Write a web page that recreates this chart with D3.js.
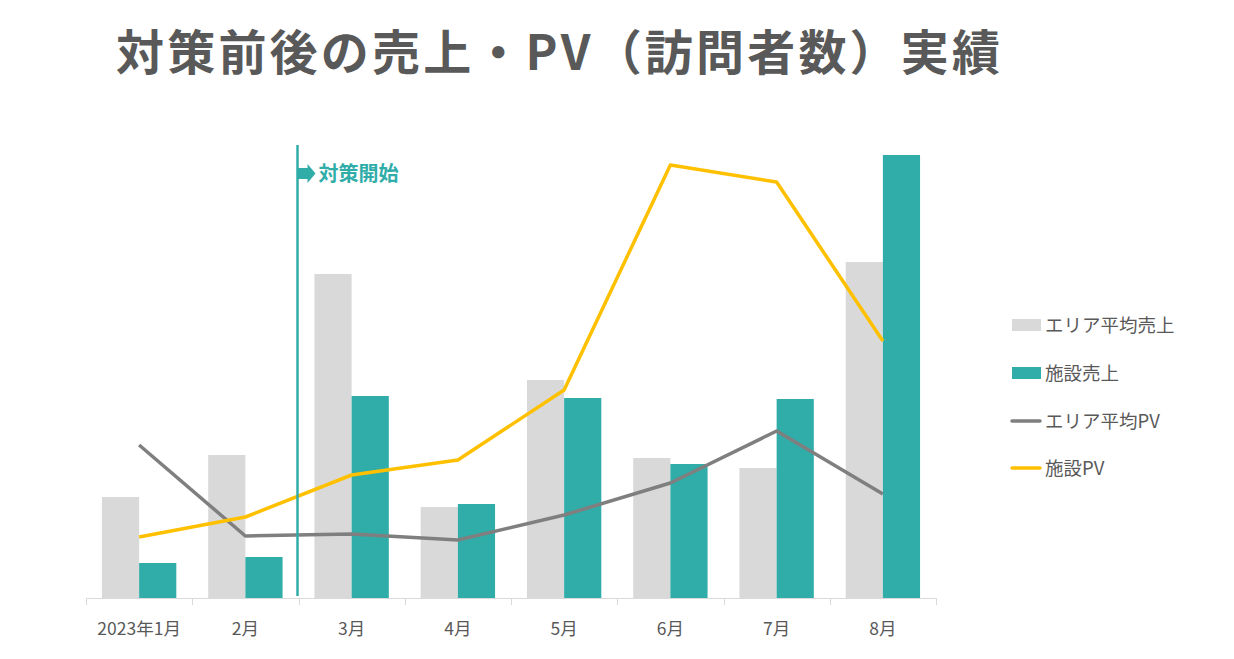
<!DOCTYPE html>
<html><head><meta charset="utf-8">
<script src="https://cdn.jsdelivr.net/npm/d3@7"></script>
<style>
html,body{margin:0;padding:0;background:#fff;}
svg{display:block;font-family:"Noto Sans CJK JP","Noto Sans",sans-serif;}
</style></head>
<body>
<svg id="chart" width="1234" height="659"></svg>
<script>
const categories = ["2023年1月","2月","3月","4月","5月","6月","7月","8月"];
const areaSales = [101,143,324,91,218,140,130,336];
const facilitySales = [35,41,202,94,200,134,199,443];
const areaPV = [306,124,128,116,166,230,334,208];
const facilityPV = [122,162,246,276,416,866,832,514];
const seriesNames = ["エリア平均売上","施設売上","エリア平均PV","施設PV"];
const titleText = "対策前後の売上・PV（訪問者数）実績";
const markerText = "対策開始";

const colors = {area:"#d9d9d9", facility:"#30ada9", areaPV:"#7f7f7f", facilityPV:"#ffc000", text:"#595959"};

const svg = d3.select("#chart");

svg.append("text").attr("x",116).attr("y",70)
  .attr("textLength",884).attr("lengthAdjust","spacing")
  .attr("font-size",48).attr("font-weight","bold").attr("fill",colors.text)
  .text(titleText);

const x0 = d3.scaleBand().domain(categories).range([86,936]).paddingInner(0.3).paddingOuter(0.15);
const x1 = d3.scaleBand().domain(["area","facility"]).range([0,x0.bandwidth()]);
const yBar = d3.scaleLinear().domain([0,500]).range([598,98]);
const yPV = d3.scaleLinear().domain([0,1000]).range([598,98]);

const g = svg.append("g");
categories.forEach((c,i)=>{
  g.append("rect").attr("x",x0(c)+x1("area")).attr("width",x1.bandwidth())
    .attr("y",yBar(areaSales[i])).attr("height",yBar(0)-yBar(areaSales[i])).attr("fill",colors.area);
  g.append("rect").attr("x",x0(c)+x1("facility")).attr("width",x1.bandwidth())
    .attr("y",yBar(facilitySales[i])).attr("height",yBar(0)-yBar(facilitySales[i])).attr("fill",colors.facility);
});

// axis
const xAxisScale = d3.scaleLinear().domain([0,categories.length]).range([86,936]);
g.append("line").attr("x1",86).attr("x2",936).attr("y1",598.5).attr("y2",598.5).attr("stroke","#d9d9d9").attr("stroke-width",1);
d3.range(categories.length+1).forEach(k=>{
  const xx = Math.round(xAxisScale(k))+0.5;
  g.append("line").attr("x1",xx).attr("x2",xx).attr("y1",598).attr("y2",605).attr("stroke","#d9d9d9");
});
categories.forEach(c=>{
  g.append("text").attr("x",x0(c)+x0.bandwidth()/2).attr("y",635).attr("text-anchor","middle")
    .attr("font-size",17.5).attr("fill",colors.text).text(c);
});

const cx = c => x0(c)+x0.bandwidth()/2;
const lineA = d3.line().x((d,i)=>cx(categories[i])).y(d=>yPV(d));
g.append("path").attr("d",lineA(areaPV)).attr("fill","none").attr("stroke",colors.areaPV).attr("stroke-width",3.5).attr("stroke-linejoin","round");
g.append("path").attr("d",lineA(facilityPV)).attr("fill","none").attr("stroke",colors.facilityPV).attr("stroke-width",3.5).attr("stroke-linejoin","round");

// marker line between 2月 and 3月
const mx = xAxisScale(2) - 1;
g.append("line").attr("x1",mx).attr("x2",mx).attr("y1",145).attr("y2",596).attr("stroke",colors.facility).attr("stroke-width",2.5);
g.append("path").attr("d",`M${mx},168 L${mx+10},168 L${mx+10},164 L${mx+18},173.5 L${mx+10},183 L${mx+10},179 L${mx},179 Z`).attr("fill",colors.facility);
g.append("text").attr("x",mx+21).attr("y",181).attr("font-size",20).attr("font-weight","bold").attr("fill",colors.facility).text(markerText);

// legend
const ly = [325,373,421,468];
const lg = svg.append("g");
[0,1].forEach(i=>{
  lg.append("rect").attr("x",1012).attr("y",ly[i]-6).attr("width",29).attr("height",12).attr("fill",i===0?colors.area:colors.facility);
});
[2,3].forEach(i=>{
  lg.append("line").attr("x1",1012).attr("x2",1040).attr("y1",ly[i]).attr("y2",ly[i]).attr("stroke",i===2?colors.areaPV:colors.facilityPV).attr("stroke-width",3.5).attr("stroke-linecap","round");
});
seriesNames.forEach((n,i)=>{
  lg.append("text").attr("x",1045).attr("y",ly[i]+6.5).attr("font-size",18.5).attr("fill",colors.text).text(n);
});
</script>
</body></html>
